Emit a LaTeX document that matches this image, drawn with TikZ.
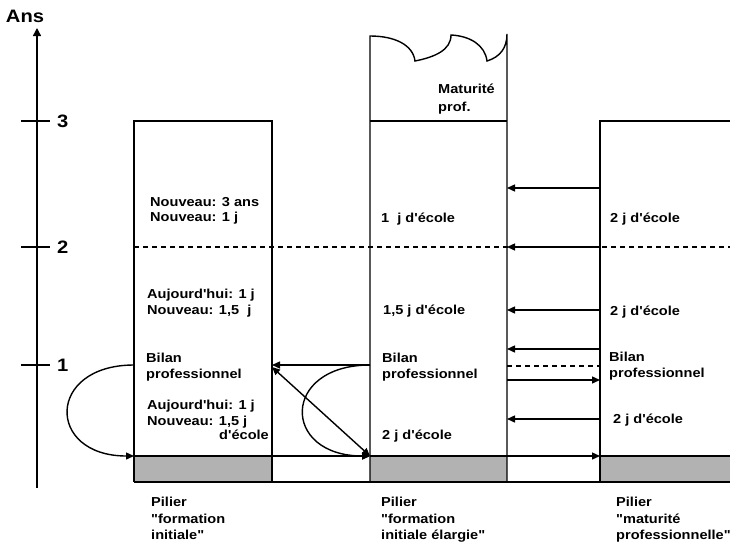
\documentclass[tikz,border=0pt]{standalone}
\usepackage{fontspec}
\setmainfont[FakeStretch=1.12,Ligatures=TeXOff]{Liberation Sans}
\usetikzlibrary{arrows.meta}
\begin{document}
\begin{tikzpicture}[x=1pt,y=-1pt]
\tikzset{
  ln/.style={line width=1.4pt},
  arr/.style={ln,-{Triangle[length=8pt,width=7pt]}},
  darr/.style={ln,{Triangle[length=8pt,width=7pt]}-{Triangle[length=8pt,width=7pt]}},
  txt/.style={anchor=north west, inner sep=0pt, align=left, font=\bfseries\fontsize{13}{15.5}\selectfont},
  big/.style={inner sep=0pt, font=\bfseries\fontsize{18}{21}\selectfont},
  dsh/.style={line width=1.2pt, dash pattern=on 5pt off 4pt},
  grayfill/.style={fill=black!30}
}
\useasboundingbox (0,0) rectangle (730,546);

% axis
\coordinate (axb) at (37,488);
\coordinate (axt) at (37,28);
\draw[ln,-{Triangle[length=8pt,width=8pt]}] (axb) -- (axt);
\node[big] (ans) at (25,16) {Ans};
\foreach \yy/\lab in {121/3,247/2,365/1}{
  \coordinate (tl\lab) at (21,\yy);
  \coordinate (tr\lab) at (50,\yy);
  \draw[ln] (tl\lab) -- (tr\lab);
  \node[big,anchor=west] (lab\lab) at (57,\yy) {\lab};
}

% pillar corner coordinates
\coordinate (a1) at (134,121); \coordinate (b1) at (272,121);
\coordinate (a2) at (370,121); \coordinate (b2) at (507,121);
\coordinate (a3) at (600,121); \coordinate (b3) at (730,121);

% gray bases
\fill[grayfill] (134,456) rectangle (272,482);
\fill[grayfill] (370,456) rectangle (507,482);
\fill[grayfill] (600,456) rectangle (730,482);

% pillar 1
\draw[ln] (134,482) -- (a1) -- (b1) -- (272,482);
% pillar 2 with scalloped top
\draw[ln] (370,482) -- (370,36)
  .. controls (395,36) and (413,45) .. (415,61)
  .. controls (435,57) and (451,50) .. (451,35)
  .. controls (470,36) and (485,45) .. (487,61)
  .. controls (500,57) and (507,48) .. (507,34) -- (507,482);
\draw[ln] (a2) -- (b2);
% pillar 3
\draw[ln] (600,482) -- (a3) -- (b3);
% bottom and base lines
\draw[ln] (134,482) -- (730,482);
\draw[ln] (134,456) -- (272,456);
\draw[ln] (370,456) -- (507,456);
\draw[ln] (600,456) -- (730,456);

% dashed level 2
\draw[dsh] (134,247) -- (730,247);

% named connection points
\coordinate (p1L1) at (134,365); \coordinate (p1B) at (134,456);
\coordinate (p1R1) at (272,365); \coordinate (p1Rd) at (272,367); \coordinate (p1RB) at (272,456);
\coordinate (p2L1) at (370,365); \coordinate (p2B) at (370,456);
\coordinate (p2RB) at (507,456); \coordinate (p3B) at (600,456);

% arrows on base line
\draw[arr] (p1RB) -- (p2B);
\draw[arr] (p2RB) -- (p3B);

% loops
\draw[arr] (p1L1) .. controls (46,365) and (46,456) .. (p1B);
\draw[arr] (p2L1) .. controls (281,365) and (281,456) .. (p2B);
\draw[arr] (p2L1) -- (p1R1);
\draw[darr] (p1Rd) -- (p2B);

% arrows between pillar 2 and 3
\foreach \yy/\nm in {188/a,247/b,310/c,349/d,419/e}{
  \coordinate (r\nm) at (600,\yy);
  \coordinate (l\nm) at (507,\yy);
  \draw[arr] (r\nm) -- (l\nm);
}
\coordinate (lf) at (507,380); \coordinate (rf) at (600,380);
\draw[arr] (lf) -- (rf);
\coordinate (lg) at (507,366); \coordinate (rg) at (600,366);
\draw[dsh] (lg) -- (rg);

% pillar 1 texts
\node[txt] (t11) at (150,197) {Nouveau: 3 ans\\Nouveau: 1 j};
\node[txt] (t12) at (147,289) {Aujourd'hui: 1 j\\Nouveau: 1,5\ \ j};
\node[txt] (t13) at (146,353) {Bilan\\professionnel};
\node[txt] (t14) at (147,400) {Aujourd'hui: 1 j\\Nouveau: 1,5 j};
\node[txt,anchor=north east] (t15) at (269,430) {d'école};

% pillar 2 texts
\node[txt,font=\bfseries\fontsize{13}{18}\selectfont] (t20) at (438,84) {Maturité\\prof.};
\node[txt] (t21) at (381,213) {1\ \ j d'école};
\node[txt] (t22) at (383,305) {1,5 j d'école};
\node[txt] (t23) at (382,353) {Bilan\\professionnel};
\node[txt] (t24) at (382,430) {2 j d'école};

% pillar 3 texts
\node[txt] (t31) at (610,213) {2 j d'école};
\node[txt] (t32) at (610,306) {2 j d'école};
\node[txt] (t33) at (609,352) {Bilan\\professionnel};
\node[txt] (t34) at (613,414) {2 j d'école};

% bottom labels
\node[txt,font=\bfseries\fontsize{13}{16.5}\selectfont] (b1) at (151,497) {Pilier\\"formation\\initiale"};
\node[txt,font=\bfseries\fontsize{13}{16.5}\selectfont] (b2) at (381,497) {Pilier\\"formation\\initiale élargie"};
\node[txt,font=\bfseries\fontsize{13}{16.5}\selectfont] (b3) at (616,497) {Pilier\\"maturité\\professionnelle"};
\end{tikzpicture}
\end{document}
